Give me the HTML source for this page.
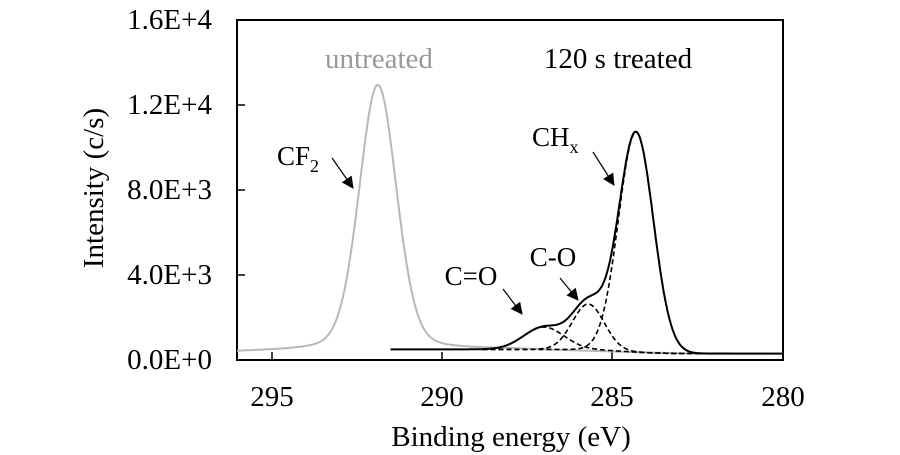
<!DOCTYPE html>
<html><head><meta charset="utf-8"><style>
html,body{margin:0;padding:0;background:#fff;}
svg{display:block;font-family:"Liberation Serif",serif;}
</style></head><body>
<svg id="s" width="900" height="455" viewBox="0 0 900 455" xmlns="http://www.w3.org/2000/svg">
<defs><marker id="ah" markerWidth="12" markerHeight="12" refX="11" refY="6" orient="auto" markerUnits="userSpaceOnUse"><path d="M0,0 L12,6 L0,12 z" fill="#000"/></marker></defs>
<rect x="237" y="20" width="546" height="340" fill="none" stroke="#000" stroke-width="2"/>
<g stroke="#000" stroke-width="1.5">
<line x1="237" y1="105" x2="245" y2="105"/><line x1="237" y1="190" x2="245" y2="190"/><line x1="237" y1="275" x2="245" y2="275"/>
<line x1="272" y1="360" x2="272" y2="352"/><line x1="442" y1="360" x2="442" y2="352"/><line x1="612" y1="360" x2="612" y2="352"/>
</g>
<g font-size="29" text-anchor="end">
<text x="212" y="29">1.6E+4</text><text x="212" y="114">1.2E+4</text><text x="212" y="199">8.0E+3</text><text x="212" y="284">4.0E+3</text><text x="212" y="369">0.0E+0</text>
</g>
<g font-size="29" text-anchor="middle">
<text x="272" y="406">295</text><text x="442" y="406">290</text><text x="612" y="406">285</text><text x="783" y="406">280</text>
</g>
<g font-size="29" text-anchor="middle">
<text x="511" y="446">Binding energy (eV)</text>
<text transform="translate(103,188) rotate(-90)">Intensity (c/s)</text>
<text x="379" y="68" fill="#999">untreated</text>
<text x="618" y="68">120 s treated</text>
</g>
<g font-size="27" text-anchor="middle">
<text x="471" y="285">C=O</text>
<text x="553" y="266">C-O</text>
</g>
<text x="277" y="165" font-size="27">CF<tspan font-size="18" dy="7">2</tspan></text>
<text x="532" y="146" font-size="27">CH<tspan font-size="18" dy="7">x</tspan></text>
<g stroke="#000" stroke-width="1.2" marker-end="url(#ah)">
<line x1="332" y1="158" x2="353" y2="188"/>
<line x1="593" y1="152" x2="614" y2="185"/>
<line x1="560" y1="278" x2="578" y2="300"/>
<line x1="503" y1="289" x2="522" y2="314"/>
</g>
<path id="gray" fill="none" stroke="#b8b8b8" stroke-width="2"/>
<path id="env" fill="none" stroke="#000" stroke-width="2"/>
<path id="d1" fill="none" stroke="#000" stroke-width="1.6" stroke-dasharray="5,3"/>
<path id="d2" fill="none" stroke="#000" stroke-width="1.6" stroke-dasharray="5,3"/>
<path id="d3" fill="none" stroke="#000" stroke-width="1.6" stroke-dasharray="5,3"/>
</svg>
<script>
function X(E){return 237+(296-E)*34.1;}
function Y(v){return 360-v/16000*340;}
function g(E,c,h,w){var s=w/2.355;return h*Math.exp(-(E-c)*(E-c)/(2*s*s));}
function gl(E,c,h,w){var l=1/(1+4*(E-c)*(E-c)/(w*w));return 0.8*g(E,c,h,w)+0.2*h*l;}
function sig(t){return 1/(1+Math.exp(-t));}
function bgK(E){return 300+200*sig((E-284.6)/0.5);}
function bgG(E){if(E>291.9)return 380+120*(296-E)/4.1; if(E>288)return 500; if(E>283)return 500-200*(288-E)/5; return 300;}
function path(f,a,b){var d="";for(var E=a;E>=b;E-=0.02){d+=(d?"L":"M")+X(E).toFixed(1)+","+Y(f(E)).toFixed(1);}return d;}
document.getElementById("gray").setAttribute("d",path(function(E){return bgG(E)+gl(E,291.87,12450,1.3);},296,280));
var p1=[287.0,1050,1.4],p2=[285.7,2150,1.1],p3=[284.3,10350,1.2];
document.getElementById("env").setAttribute("d",path(function(E){return bgK(E)+g(E,p1[0],p1[1],p1[2])+g(E,p2[0],p2[1],p2[2])+g(E,p3[0],p3[1],p3[2]);},291.5,280));
[p1,p2,p3].forEach(function(p,i){document.getElementById("d"+(i+1)).setAttribute("d",path(function(E){return bgK(E)+g(E,p[0],p[1],p[2]);},288.8,281.5));});
</script>
</body></html>
